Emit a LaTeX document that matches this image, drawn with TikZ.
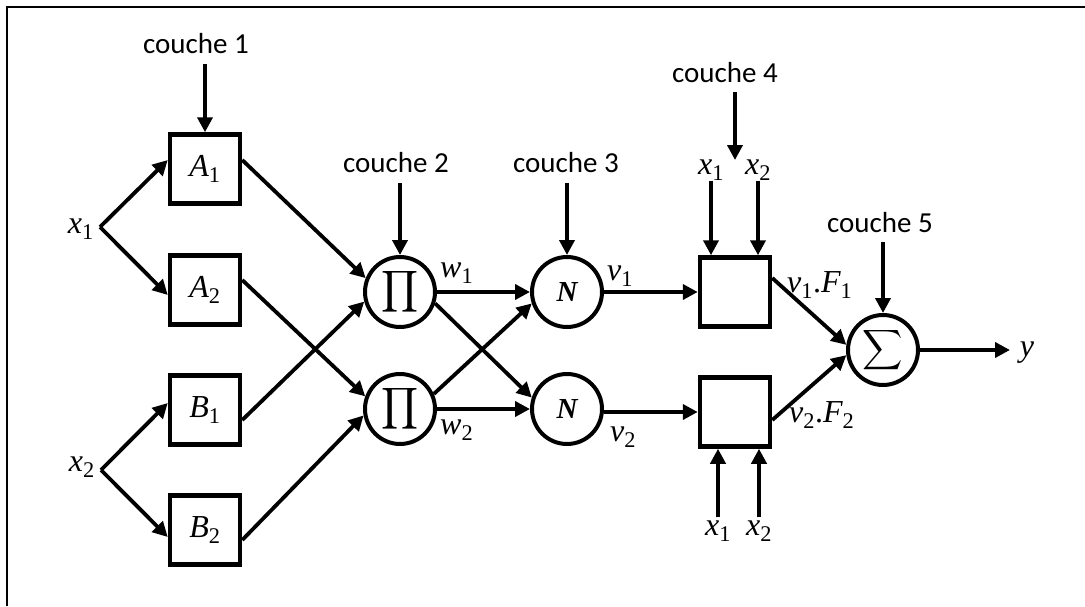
\documentclass[tikz,border=0pt]{standalone}
\usepackage{fontspec}
\setmainfont{Liberation Serif}
\newfontfamily\cfont{Carlito}
\usetikzlibrary{arrows.meta,calc}
\newcommand\lsub[1]{\textsubscript{\upshape#1}}
\begin{document}
\begin{tikzpicture}[x=1pt,y=-1pt,
  arr/.style={line width=3.8pt,-{Triangle[length=15pt,width=15pt]}},
  blk/.style={draw,line width=4.5pt,minimum width=70pt,minimum height=69pt,inner sep=0pt,
    font=\fontsize{32}{38}\selectfont\itshape},
  circ/.style={draw,circle,line width=4pt,minimum size=70pt,inner sep=0pt},
  lay/.style={font=\cfont\fontsize{29}{33}\selectfont,inner sep=0pt},
  lab/.style={font=\fontsize{32}{38}\selectfont\itshape,inner sep=0pt}]
\useasboundingbox (0,0) rectangle (1085,606);
\draw[line width=2pt] (1085,7) -- (6.5,7) -- (6.5,606);

% layer 1
\node[blk] (A1) at (205,169) {A\lsub{1}};
\node[blk] (A2) at (205,290) {A\lsub{2}};
\node[blk] (B1) at (205,410) {B\lsub{1}};
\node[blk] (B2) at (205,530) {B\lsub{2}};
\node[lay] (c1) at (196,44) {couche 1};
\coordinate (c1b) at ([yshift=-10pt]c1.south);
\draw[arr] (c1b -| A1.north) -- (A1.north);

\coordinate (x1p) at (100,227);
\coordinate (x2p) at (101,470);
\node[lab,anchor=east] (x1) at (94,229) {x\lsub{1}};
\node[lab,anchor=east] (x2) at (95,467) {x\lsub{2}};
\draw[arr] (x1p) -- ([yshift=9pt]A1.west);
\draw[arr] (x1p) -- ([yshift=-5pt]A2.west);
\draw[arr] (x2p) -- ([yshift=7pt]B1.west);
\draw[arr] (x2p) -- ([yshift=-7pt]B2.west);

% layer 2
\node[circ] (P1) at (400,292) {\scalebox{2.9}{$\displaystyle\prod$}};
\node[circ] (P2) at (400,409) {\scalebox{2.9}{$\displaystyle\prod$}};
\node[lay] (c2) at (396,163) {couche 2};
\coordinate (c2b) at ([yshift=-10pt]c2.south);
\draw[arr] (c2b -| P1.north) -- (P1.north);
\draw[arr] ([yshift=9pt]A1.east) -- (P1.158);
\draw[arr] ([yshift=-10pt]B1.east) -- (P1.195);
\draw[arr] ([yshift=10pt]A2.east) -- (P2.160);
\draw[arr] ([yshift=-10pt]B2.east) -- (P2.190);
\node[lab,anchor=west] (w1) at (440,273) {w\lsub{1}};
\node[lab,anchor=west] (w2) at (440,430) {w\lsub{2}};

% layer 3
\node[circ,font=\fontsize{29}{34}\selectfont\bfseries\itshape] (N1) at (567,292) {N};
\node[circ,font=\fontsize{29}{34}\selectfont\bfseries\itshape] (N2) at (567,409) {N};
\node[lay] (c3) at (566,163) {couche 3};
\coordinate (c3b) at ([yshift=-10pt]c3.south);
\draw[arr] (c3b -| N1.north) -- (N1.north);
\draw[arr] (P1.east) -- (N1.west);
\draw[arr] (P2.east) -- (N2.west);
\draw[arr] (P1.-18) -- (N2.162);
\draw[arr] (P2.24) -- (N1.198);
\node[lab,anchor=west] (v1) at (607,276) {v\lsub{1}};
\node[lab,anchor=west] (v2) at (610,437) {v\lsub{2}};

% layer 4
\node[blk] (F1) at (735,292) {};
\node[blk] (F2) at (735,412) {};
\draw[arr] (N1.east) -- (F1.west);
\draw[arr] (F2.west -| N2.east) -- (F2.west);
\node[lay] (c4) at (725,73) {couche 4};
\coordinate (c4e) at (735,160);
\coordinate (c4b) at ([yshift=-9pt]c4.south);
\draw[arr] (c4b -| c4e) -- (c4e);
\node[lab] (t1) at (711,170) {x\lsub{1}};
\node[lab] (t2) at (758,170) {x\lsub{2}};
\draw[arr] (t1.south) -- (t1.south |- F1.north);
\draw[arr] (t2.south) -- (t2.south |- F1.north);
\node[lab] (b1) at (718,531) {x\lsub{1}};
\node[lab] (b2) at (759,531) {x\lsub{2}};
\draw[arr] ([yshift=3pt]b1.north) -- (b1.north |- F2.south);
\draw[arr] ([yshift=3pt]b2.north) -- (b2.north |- F2.south);
\node[lab,anchor=west] (vf1) at (787,285) {v\lsub{1}\upshape.\itshape F\lsub{1}};
\node[lab,anchor=west] (vf2) at (789,415) {v\lsub{2}\upshape.\itshape F\lsub{2}};

% layer 5
\node[circ] (S) at (883,350) {\scalebox{2.8}{$\displaystyle\sum$}};
\node[lay] (c5) at (880,223) {couche 5};
\coordinate (c5b) at ([yshift=-9pt]c5.south);
\draw[arr] (c5b -| S.north) -- (S.north);
\draw[arr] ([yshift=14pt]F1.east) -- (S.172);
\draw[arr] ([yshift=-8pt]F2.east) -- (S.188);
\coordinate (ye) at (1010,350);
\draw[arr] (S.east) -- (ye);
\node[lab] (y) at (1027,353) {y};
\end{tikzpicture}
\end{document}
